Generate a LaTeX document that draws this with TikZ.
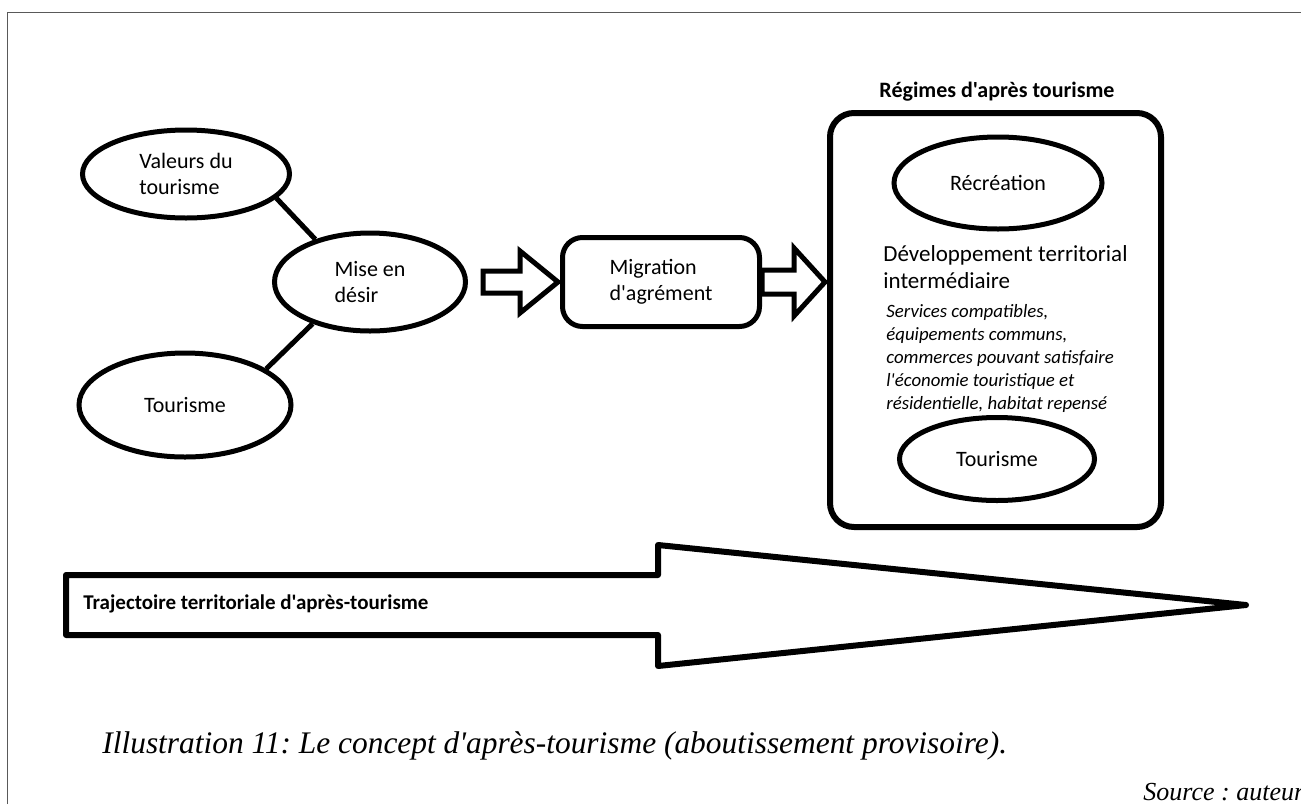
\documentclass[tikz,border=0pt]{standalone}
\usepackage{fontspec}
\setmainfont{Carlito}[Ligatures=TeXOff]
\newfontfamily\captfont{Liberation Serif}
\usepackage{tikz}
\usetikzlibrary{shapes.geometric,positioning,calc}
\frenchspacing

\begin{document}
\begin{tikzpicture}[
    x=0.5pt, y=-0.5pt,
    oval/.style={ellipse, draw, line width=2.5pt, align=left, inner sep=0pt, font=\fontsize{11}{13}\selectfont},
    box/.style={rectangle, draw, rounded corners=10pt, line width=2.5pt, align=left, font=\fontsize{11}{13}\selectfont},
    link/.style={line width=2.5pt},
    hollow/.style={draw, line width=2.5pt, fill=white},
    note/.style={inner sep=0pt, align=left, anchor=north west}
]
    \useasboundingbox (0,0) rectangle (1301,804);

    % page frame
    \draw[gray!70!black, line width=0.75pt] (7.5,804) -- (7.5,12.5) -- (1301,12.5);

    % Ellipses on the left
    \node[oval, minimum width=103.5pt, minimum height=44pt] (valeurs) at (186,174) {Valeurs du\\tourisme};
    \node[oval, minimum width=95.5pt, minimum height=49pt] (desir) at (370,282) {Mise en\\désir};
    \node[oval, minimum width=106pt, minimum height=52pt] (tourA) at (185,405) {Tourisme};
    \node[box, minimum width=98.5pt, minimum height=44.5pt] (migr) at (661,282) {Migration\\d'agrément};

    % Regimes box
    \node[draw, line width=3pt, rounded corners=12pt, minimum width=165.5pt, minimum height=207pt, inner sep=0pt] (regimes) at (995.5,320) {};
    \node[font=\bfseries\fontsize{11}{13}\selectfont] (regtitle) at (997,92) {Régimes d'après tourisme};
    \node[oval, minimum width=104pt, minimum height=46pt] (recre) at (998,183) {Récréation};
    \node[note, font=\fontsize{11.5}{13.5}\selectfont] (devt) at (883,245) {Développement territorial\\intermédiaire};
    \node[note, font=\itshape\fontsize{9.4}{11.5}\selectfont] (serv) at (886,304) {Services compatibles,\\équipements communs,\\commerces pouvant satisfaire\\l'économie touristique et\\résidentielle, habitat repensé};
    \node[oval, minimum width=97.5pt, minimum height=41.5pt] (tourB) at (997,459) {Tourisme};

    % Links
    \draw[link] (valeurs.-15) -- (desir.142);
    \draw[link] (desir.216) -- (tourA.24);

    % Hollow arrows
    \draw[hollow] ($(desir.east)+(15,-11)$) -- ($(migr.west)+(-40,-11)$) -- ($(migr.west)+(-40,-31)$)
        -- ($(migr.west)+(-2,0)$) -- ($(migr.west)+(-40,31)$) -- ($(migr.west)+(-40,11)$)
        -- ($(desir.east)+(15,11)$) -- cycle;
    \draw[hollow] ($(migr.east)+(0,-12)$) -- ($(regimes.west |- migr.east)+(-33,-12)$) -- ($(regimes.west |- migr.east)+(-33,-34)$)
        -- ($(regimes.west |- migr.east)+(-2,0)$) -- ($(regimes.west |- migr.east)+(-33,34)$) -- ($(regimes.west |- migr.east)+(-33,12)$)
        -- ($(migr.east)+(0,12)$) -- cycle;

    % Long arrow
    \draw[line width=3pt, line join=round] (66,575) -- (658,575) -- (658,545) -- (1246,605) -- (658,666) -- (658,635) -- (66,635) -- cycle;
    \node[font=\bfseries\fontsize{10.5}{12}\selectfont, anchor=west, inner sep=0pt] (traj) at (83,604) {Trajectoire territoriale d'après-tourisme};

    % Caption
    \node[anchor=base west, inner sep=0pt, font=\captfont\itshape\fontsize{15.7}{18}\selectfont] (capt) at (102,753) {Illustration 11: Le concept d'après-tourisme (aboutissement provisoire).};
    \node[anchor=base west, inner sep=0pt, font=\captfont\itshape\fontsize{13}{15}\selectfont] (src) at (1143,800) {Source : auteur};

\end{tikzpicture}
\end{document}
